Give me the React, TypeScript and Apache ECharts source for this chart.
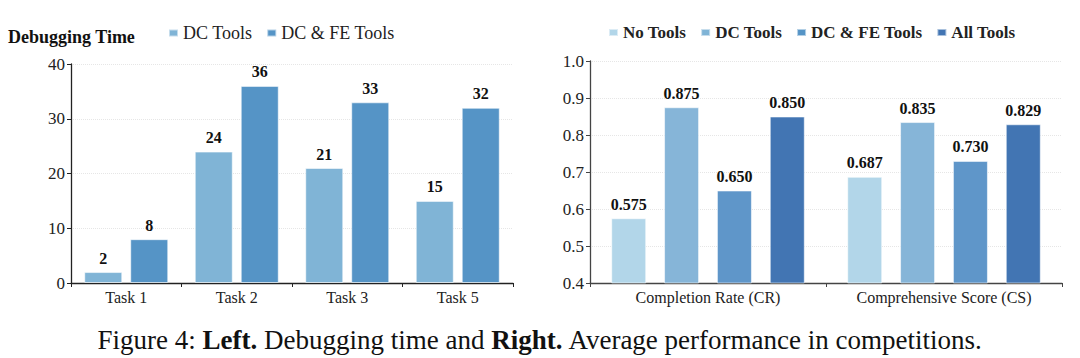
import React, { useEffect, useRef } from "react";
import * as echarts from "echarts";

const taskCategories = ["Task 1", "Task 2", "Task 3", "Task 5"];
const debugDC = [2, 24, 21, 15];
const debugDCFE = [8, 36, 33, 32];

const perfCategories = ["Completion Rate (CR)", "Comprehensive Score (CS)"];
const perfNoTools = [0.575, 0.687];
const perfDC = [0.875, 0.835];
const perfDCFE = [0.65, 0.73];
const perfAll = [0.85, 0.829];

const FONT = "'Liberation Serif', 'Times New Roman', serif";

export default function App() {
  const ref = useRef<HTMLDivElement>(null);
  useEffect(() => {
    document.body.style.margin = "0";
    const chart = echarts.init(ref.current!, null, { renderer: "svg" });
    const grid = { lineStyle: { type: "dotted", color: "#e6e6e6", width: 1 } };
    const barLabel = (fmt: (v: number) => string) => ({
      show: true,
      position: "top",
      distance: 6,
      color: "#111",
      fontFamily: FONT,
      fontWeight: "bold",
      fontSize: 16,
      formatter: (p: any) => fmt(p.value),
    });
    const border = { borderColor: "rgba(255,255,255,0.55)", borderWidth: 1 };
    chart.setOption({
      animation: false,
      textStyle: { fontFamily: FONT },
      title: {
        text: "{n|Figure 4: }{b|Left.}{n| Debugging time and }{b|Right.}{n| Average performance in competitions.}",
        left: "center",
        top: 321,
        textStyle: {
          fontFamily: FONT,
          fontWeight: "normal",
          fontSize: 27,
          rich: {
            n: { fontFamily: FONT, fontSize: 27, fontWeight: "normal", color: "#111" },
            b: { fontFamily: FONT, fontSize: 27, fontWeight: "bold", color: "#111" },
          },
        },
      },
      graphic: [
        {
          type: "text",
          left: 8,
          top: 28,
          style: {
            text: "Debugging Time",
            font: "bold 18px 'Liberation Serif', serif",
            fontFamily: FONT,
            fontSize: 18,
            fontWeight: "bold",
            fill: "#111",
          },
        },
      ],
      legend: [
        {
          data: ["DC Tools", "DC & FE Tools"],
          left: 163,
          top: 19,
          itemWidth: 9,
          itemHeight: 7,
          itemGap: 14,
          icon: "rect",
          textStyle: { fontFamily: FONT, fontSize: 18, color: "#222" },
        },
        {
          data: ["No Tools", "DC Tools", "DC & FE Tools", "All Tools"],
          left: 603,
          top: 19,
          itemWidth: 9,
          itemHeight: 7,
          itemGap: 14,
          icon: "rect",
          textStyle: { fontFamily: FONT, fontSize: 17, fontWeight: "bold", color: "#222" },
        },
      ],
      grid: [
        { left: 71, right: 567, top: 64, bottom: 75 },
        { left: 590, right: 18, top: 61, bottom: 75 },
      ],
      xAxis: [
        {
          type: "category",
          gridIndex: 0,
          data: taskCategories,
          axisLine: { lineStyle: { color: "#222", width: 1.3 } },
          axisTick: { show: true, length: 4, lineStyle: { color: "#222" } },
          axisLabel: { color: "#222", fontSize: 16, fontFamily: FONT, margin: 6 },
        },
        {
          type: "category",
          gridIndex: 1,
          data: perfCategories,
          axisLine: { lineStyle: { color: "#444", width: 1.3 } },
          axisTick: { show: true, length: 4, lineStyle: { color: "#444" } },
          axisLabel: { color: "#222", fontSize: 16, fontFamily: FONT, margin: 6 },
        },
      ],
      yAxis: [
        {
          type: "value",
          gridIndex: 0,
          min: 0,
          max: 40,
          interval: 10,
          axisLine: { show: true, lineStyle: { color: "#222", width: 1.3 } },
          axisTick: { show: true, length: 4, lineStyle: { color: "#222" } },
          axisLabel: { color: "#222", fontSize: 17, fontFamily: FONT, margin: 6 },
          splitLine: grid,
        },
        {
          type: "value",
          gridIndex: 1,
          min: 0.4,
          max: 1.0,
          interval: 0.1,
          axisLine: { show: true, lineStyle: { color: "#444", width: 1.3 } },
          axisTick: { show: true, length: 4, lineStyle: { color: "#444" } },
          axisLabel: {
            color: "#222",
            fontSize: 17,
            fontFamily: FONT,
            margin: 6,
            formatter: (v: number) => v.toFixed(1),
          },
          splitLine: grid,
        },
      ],
      series: [
        {
          name: "DC Tools",
          type: "bar",
          xAxisIndex: 0,
          yAxisIndex: 0,
          data: debugDC,
          barWidth: 38,
          barGap: "21%",
          itemStyle: { color: "#80b4d6", ...border },
          label: barLabel((v) => String(v)),
        },
        {
          name: "DC & FE Tools",
          type: "bar",
          xAxisIndex: 0,
          yAxisIndex: 0,
          data: debugDCFE,
          barWidth: 38,
          barGap: "21%",
          itemStyle: { color: "#5594c6", ...border },
          label: barLabel((v) => String(v)),
        },
        {
          name: "No Tools",
          type: "bar",
          xAxisIndex: 1,
          yAxisIndex: 1,
          data: perfNoTools,
          barWidth: 35,
          barGap: "51%",
          itemStyle: { color: "#b2d6e9", ...border },
          label: barLabel((v) => v.toFixed(3)),
        },
        {
          name: "DC Tools",
          type: "bar",
          xAxisIndex: 1,
          yAxisIndex: 1,
          data: perfDC,
          barWidth: 35,
          barGap: "51%",
          itemStyle: { color: "#86b5d8", ...border },
          label: barLabel((v) => v.toFixed(3)),
        },
        {
          name: "DC & FE Tools",
          type: "bar",
          xAxisIndex: 1,
          yAxisIndex: 1,
          data: perfDCFE,
          barWidth: 35,
          barGap: "51%",
          itemStyle: { color: "#5f96c9", ...border },
          label: barLabel((v) => v.toFixed(3)),
        },
        {
          name: "All Tools",
          type: "bar",
          xAxisIndex: 1,
          yAxisIndex: 1,
          data: perfAll,
          barWidth: 35,
          barGap: "51%",
          itemStyle: { color: "#4275b3", ...border },
          label: barLabel((v) => v.toFixed(3)),
        },
      ],
    });
    return () => chart.dispose();
  }, []);
  return <div ref={ref} style={{ width: 1080, height: 358 }} />;
}
